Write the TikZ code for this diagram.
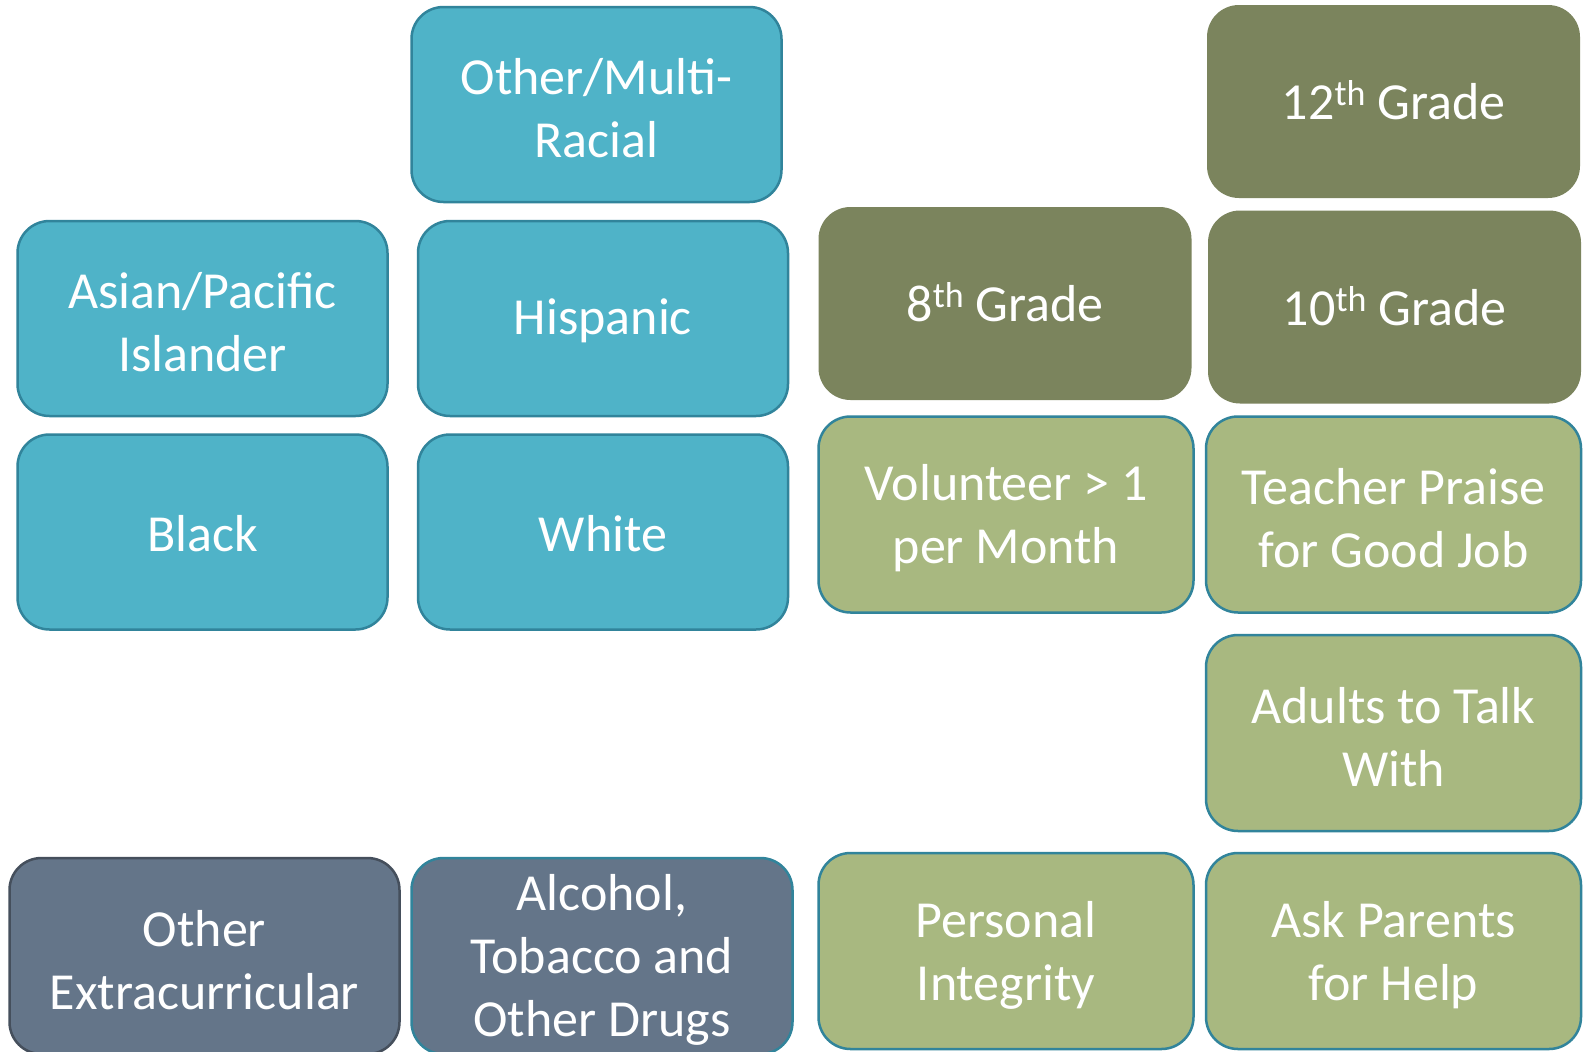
\documentclass[tikz,border=0pt]{standalone}
\usepackage{fontspec}
\setmainfont{Carlito}
\definecolor{tealfill}{HTML}{4FB3C8}
\definecolor{tealline}{HTML}{31849B}
\definecolor{olivefill}{HTML}{7B845D}
\definecolor{greenfill}{HTML}{A8B880}
\definecolor{slatefill}{HTML}{647589}
\definecolor{slateline}{HTML}{454F5C}
\newcommand{\supth}{\raisebox{0.55ex}{\fontsize{36}{36}\selectfont th}}
\begin{document}
\begin{tikzpicture}[x=1pt,y=-1pt,
  box/.style={rounded corners=32pt, line width=2.5pt, inner sep=0pt, minimum height=195pt},
  label/.style={text=white, align=center, font=\fontsize{52}{63}\selectfont, inner sep=0pt, yshift=-4pt},
  onelabel/.style={label, yshift=2pt},
  tealbox/.style={box, fill=tealfill, draw=tealline, minimum width=370pt},
  olivebox/.style={box, fill=olivefill, minimum width=373pt, minimum height=193pt},
  greenbox/.style={box, fill=greenfill, draw=tealline, minimum width=375pt, minimum height=196pt},
  slatebox/.style={box, fill=slatefill, minimum height=196pt}]
\useasboundingbox[fill=white] (0,0) rectangle (1593,1052);
\node[tealbox] (multi) at (596.5,104.5) {};
\node[label] (multi-t) at (multi) {Other/Multi-\\Racial};
\node[tealbox] (asian) at (202.5,318.5) {};
\node[label] (asian-t) at (asian) {Asian/Pacific\\Islander};
\node[tealbox] (hisp) at (603,318.5) {};
\node[onelabel] (hisp-t) at (hisp) {Hispanic};
\node[tealbox] (black) at (202.5,532) {};
\node[onelabel] (black-t) at (black) {Black};
\node[tealbox] (white) at (603,532) {};
\node[onelabel] (white-t) at (white) {White};
\node[olivebox] (g8) at (1005,303.5) {};
\node[onelabel, yshift=3pt] (g8-t) at (g8) {8\supth{} Grade};
\node[olivebox] (g12) at (1393.5,101.5) {};
\node[onelabel, yshift=3pt] (g12-t) at (g12) {12\supth{} Grade};
\node[olivebox] (g10) at (1394.5,307) {};
\node[onelabel, yshift=3pt] (g10-t) at (g10) {10\supth{} Grade};
\node[greenbox] (vol) at (1006,514.5) {};
\node[label] (vol-t) at (vol) {Volunteer > 1\\per Month};
\node[greenbox] (teach) at (1393.5,514.5) {};
\node[label] (teach-t) at (teach) {Teacher Praise\\for Good Job};
\node[greenbox] (adults) at (1393.5,733) {};
\node[label] (adults-t) at (adults) {Adults to Talk\\With};
\node[greenbox] (pers) at (1006,951) {};
\node[label] (pers-t) at (pers) {Personal\\Integrity};
\node[greenbox] (ask) at (1393.5,951) {};
\node[label] (ask-t) at (ask) {Ask Parents\\for Help};
\node[slatebox, draw=slateline, minimum width=390pt] (oext) at (204.5,956) {};
\node[label] (oext-t) at (oext) {Other\\Extracurricular};
\node[slatebox, draw=tealline, minimum width=381pt] (alc) at (602,956) {};
\node[label] (alc-t) at (alc) {Alcohol,\\Tobacco and\\Other Drugs};
\end{tikzpicture}
\end{document}
